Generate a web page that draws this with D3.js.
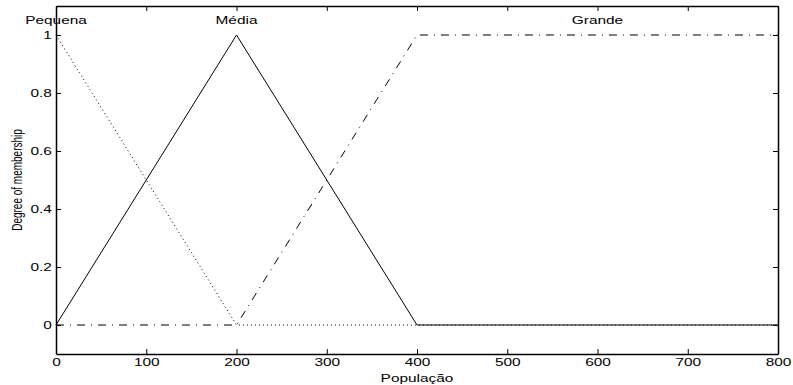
<!DOCTYPE html>
<html>
<head>
<meta charset="utf-8">
<script src="https://cdn.jsdelivr.net/npm/d3@7"></script>
<style>
  body { margin: 0; background: #fff; }
  text { font-family: "Liberation Sans", Arial, sans-serif; }
</style>
</head>
<body>
<script>
var width = 793,
  height = 385,
  margin = { top: 6, right: 15, bottom: 31, left: 56 },
  stretch = 1.4

// membership functions: [x, y] breakpoints
var xs = [0, 200, 400, 800]
var pequena = [1, 0, 0, 0]
var media = [0, 1, 0, 0]
var grande = [0, 0, 1, 1]

var mfNames = ["Pequena", "Média", "Grande"]
var labelX = [0, 200, 600]
var labelY = 1.05

var xTicks = [0, 100, 200, 300, 400, 500, 600, 700, 800]
var yTicks = [0, 0.2, 0.4, 0.6, 0.8, 1]

var svg = d3.select("body").append("svg")
  .attr("width", width)
  .attr("height", height)

var x = d3.scaleLinear().domain([0, 800]).range([margin.left, width - margin.right])
var y = d3.scaleLinear().domain([-0.1, 1.1]).range([height - margin.bottom, margin.top])

var line = d3.line()
  .x(function (d) { return x(d[0]); })
  .y(function (d) { return y(d[1]); })

function pts(vals) {
  return xs.map(function (v, i) { return [v, vals[i]]; });
}

var series = [
  { vals: pequena, dash: "1,3" },
  { vals: media, dash: null },
  { vals: grande, dash: "8,6,1,6" }
]

svg.selectAll("path.mf")
  .data(series)
  .enter().append("path")
  .attr("class", "mf")
  .attr("d", function (d) { return line(pts(d.vals)); })
  .attr("fill", "none")
  .attr("stroke", "#000")
  .attr("stroke-width", 1)
  .attr("stroke-dasharray", function (d) { return d.dash; })

// axes (ticks inward, MATLAB style box)
var tl = 5
svg.append("g")
  .attr("transform", "translate(0," + (height - margin.bottom) + ")")
  .call(d3.axisBottom(x).tickValues(xTicks).tickSize(-tl).tickSizeOuter(0).tickPadding(4))
svg.append("g")
  .attr("transform", "translate(0," + margin.top + ")")
  .call(d3.axisTop(x).tickValues(xTicks).tickSize(-tl).tickSizeOuter(0).tickFormat(""))
svg.append("g")
  .attr("class", "yaxis")
  .attr("transform", "translate(" + margin.left + ",0)")
  .call(d3.axisLeft(y).tickValues(yTicks).tickSize(-tl).tickSizeOuter(0).tickPadding(3).tickFormat(d3.format("")))
svg.append("g")
  .attr("transform", "translate(" + (width - margin.right) + ",0)")
  .call(d3.axisRight(y).tickValues(yTicks).tickSize(-tl).tickSizeOuter(0).tickFormat(""))

svg.selectAll(".domain").attr("stroke", "#000").attr("stroke-width", 1.5)
svg.selectAll(".tick text").attr("font-size", 11).attr("fill", "#000")
  .attr("transform", "scale(" + stretch + ",1)")
  .style("font-family", "'Liberation Sans', Arial, sans-serif")

svg.selectAll("text.mfname")
  .data(mfNames)
  .enter().append("text")
  .attr("class", "mfname")
  .attr("transform", function (d, i) { return "translate(" + x(labelX[i]) + "," + y(labelY) + ") scale(" + stretch + ",1)"; })
  .attr("text-anchor", "middle")
  .attr("dy", "0.35em")
  .attr("font-size", 11)
  .text(function (d) { return d; })

svg.append("text")
  .attr("transform", "translate(" + x(400) + ",382) scale(" + stretch + ",1)")
  .attr("text-anchor", "middle")
  .attr("font-size", 11)
  .text("População")

svg.append("text")
  .attr("transform", "translate(22," + y(0.5) + ") rotate(-90) scale(1," + stretch + ")")
  .attr("text-anchor", "middle")
  .attr("font-size", 10)
  .text("Degree of membership")
</script>
</body>
</html>
